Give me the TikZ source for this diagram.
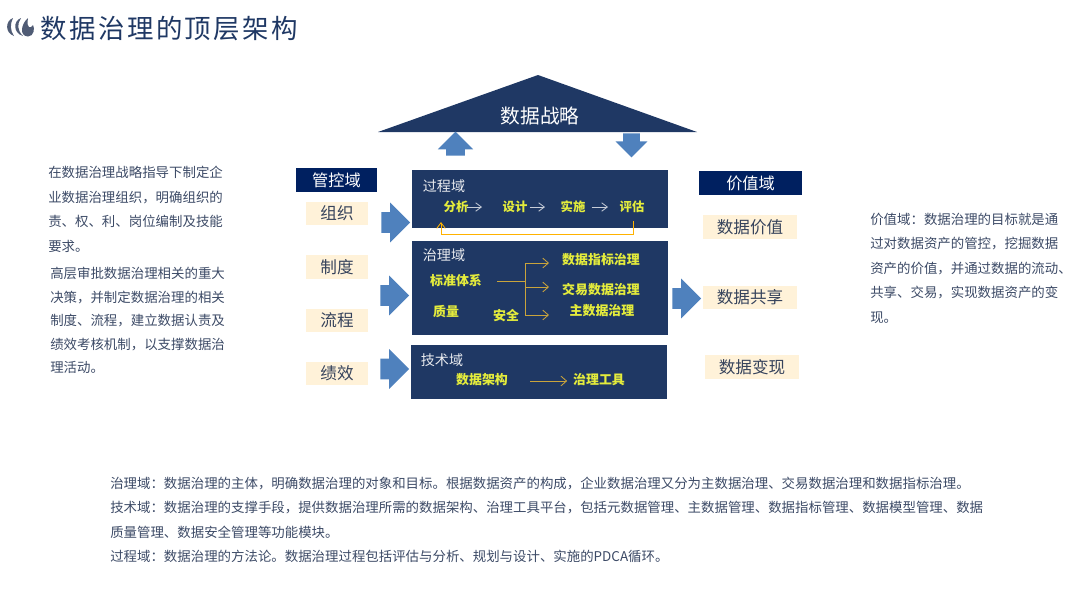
\documentclass[tikz,border=0pt]{standalone}
\usepackage{xcolor}
\usepackage{fontspec}
\setmainfont{Noto Sans CJK SC}
\newfontfamily\titlefont[LetterSpace=9.5]{Noto Sans CJK SC}
\usetikzlibrary{shapes,arrows,arrows.meta,positioning}
\definecolor{navy}{HTML}{1F3864}
\definecolor{deepnavy}{HTML}{002060}
\definecolor{beige}{HTML}{FFF2D9}
\definecolor{arrowblue}{HTML}{4F81BD}
\definecolor{bodytext}{HTML}{3C4A66}
\definecolor{labelyellow}{HTML}{E4EC3C}
\definecolor{goldline}{HTML}{C9A43C}

\begin{document}
\begin{tikzpicture}[
        x=0.025cm, y=-0.025cm,
        domainbox/.style={fill=navy, inner sep=0pt, minimum width=6.38cm},
        header/.style={fill=deepnavy, text=white, inner sep=0pt, minimum height=0.6cm,
                     font=\fontsize{11.5}{14}\selectfont},
        tag/.style={fill=beige, text=bodytext!90!black, inner sep=0pt, minimum height=0.58cm,
                     font=\fontsize{11.8}{14}\selectfont},
        domname/.style={text=white!90!navy, inner sep=0pt, font=\fontsize{10}{12}\selectfont},
        item/.style={text=labelyellow, inner sep=0pt, font=\fontsize{8.8}{11}\bfseries},
        biggeritem/.style={text=labelyellow, inner sep=0pt, font=\fontsize{9.2}{11}\bfseries},
        para/.style={text=bodytext, inner sep=0pt, anchor=west, align=left,
                     font=\fontsize{9.55}{17.4}\selectfont},
        blockarr/.style={single arrow, fill=arrowblue, anchor=tail, inner xsep=0pt, inner ysep=0.25cm,
                     minimum height=0.72cm, single arrow head extend=0.24cm},
        uprightarr/.style={single arrow, fill=arrowblue, anchor=tail, inner ysep=0pt,
                     minimum height=0.6cm},
        steparr/.style={-{Straight Barb[length=4pt,width=6pt]}, semithick, white!75!navy},
        goldarr/.style={-{Straight Barb[length=4pt,width=7pt]}, goldline, semithick},
    ]
        \useasboundingbox (0,0) rectangle (1080,608);

        % Logo and title
        \fill[bodytext!90!white] (13,18) .. controls (5,21) and (5,33) .. (14,36)
            .. controls (10,30) and (10,24) .. (13,18) -- cycle;
        \fill[bodytext!90!white] (21,18) .. controls (13,21) and (13,33) .. (23,36)
            .. controls (17,30) and (17,24) .. (21,18) -- cycle;
        \fill[bodytext!90!white] (28,18) .. controls (21,24) and (19,36) .. (28,36.5)
            .. controls (34,36.5) and (35,28) .. (33,25)
            .. controls (31,29) and (26,29) .. (28,18) -- cycle;
        \node[text=navy, inner sep=0pt, anchor=west, font=\fontsize{18.8}{22}\titlefont]
            (title) at (40,29) {数据治理的顶层架构};

        % Roof: data strategy
        \fill[navy] (378,132) -- (538,75) -- (697,132) -- cycle;
        \node[text=white, inner sep=0pt, font=\fontsize{14}{16}\selectfont]
            (strategy) at (540,116) {数据战略};
        \node[uprightarr, inner xsep=0.225cm, single arrow head extend=0.21cm,
              shape border rotate=90] (up) at (455.5,156) {};
        \node[uprightarr, inner xsep=0.2cm, single arrow head extend=0.19cm,
              shape border rotate=270] (down) at (631.5,133) {};

        % Centre: the three domains
        \node[domainbox, minimum height=1.45cm] (process) at (540,199) {};
        \node[domainbox, minimum height=2.35cm] (govern)  at (540,288) {};
        \node[domainbox, minimum height=1.34cm] (tech)    at (539,372) {};

        % Process domain
        \node[domname] (processname) at (444,186) {过程域};
        \node[item] (analyse) at (456,207) {分析};
        \node[item] (design)  at (515,207) {设计};
        \node[item] (build)   at (573,207) {实施};
        \node[item] (assess)  at (632,207) {评估};
        \draw[steparr] (analyse.east) ++(-2,0) -- (482,207);
        \draw[steparr] (design.east) ++(2,0) -- (545,207);
        \draw[steparr] (build.east) ++(6,0) -- (608,207);
        \coordinate (loopend) at (441,222);
        \draw[-{Straight Barb[length=4pt,width=6pt]}, orange!60!yellow, semithick]
            (assess.south) ++(1,8) -- (633,234) -- (441,234) -- (loopend);

        % Governance domain
        \node[domname] (governname) at (444,255) {治理域};
        \node[biggeritem] (standard) at (456,281) {标准体系};
        \node[biggeritem] (quality)  at (446,312) {质量};
        \node[biggeritem] (safety)   at (506,316) {安全};
        \node[biggeritem] (metric)   at (601,259.5) {数据指标治理};
        \node[biggeritem] (trade)    at (601,289.5) {交易数据治理};
        \node[biggeritem] (master)   at (602,311) {主数据治理};
        \coordinate (fork) at (525,281.5);
        \draw[goldline, line width=1.4pt] (standard.east) ++(15,0.5) -- (fork);
        \draw[goldarr] (fork) |- (549,263);
        \draw[goldarr] (fork) |- (549,287);
        \draw[goldarr] (fork) |- (549,315);

        % Technology domain
        \node[domname] (techname) at (442,360) {技术域};
        \node[biggeritem] (arch) at (482,380) {数据架构};
        \node[biggeritem] (tool) at (599,380) {治理工具};
        \draw[goldarr] (arch.east) ++(22,1) -- ++(37,0);

        % Left column: control domain
        \node[header, minimum width=2.02cm] (control) at (336.5,180) {管控域};
        \node[tag, minimum width=1.55cm] (org)     at (337,213.5) {组织};
        \node[tag, minimum width=1.55cm] (rule)    at (337,267) {制度};
        \node[tag, minimum width=1.55cm] (flow)    at (337,320.5) {流程};
        \node[tag, minimum width=1.55cm] (perform) at (337,373.5) {绩效};

        \node[blockarr] (orgarr)  at (381,222.5) {};
        \node[blockarr] (midarr)  at (380,295.5) {};
        \node[blockarr] (techarr) at (380,369) {};
        \node[blockarr] (outarr)  at (672,298.5) {};

        % Right column: value domain
        \node[header, minimum width=2.58cm] (value) at (750.5,183) {价值域};
        \node[tag, minimum width=2.35cm] (worth) at (750,227) {数据价值};
        \node[tag, minimum width=2.35cm] (share) at (750,297.5) {数据共享};
        \node[tag, minimum width=2.35cm] (cash)  at (752,367) {数据变现};

        % Explanations
        \node[para] (leftone) at (48,209.5) {在数据治理战略指导下制定企\\业数据治理组织，明确组织的\\责、权、利、岗位编制及技能\\要求。};
        \node[para, font=\fontsize{9.55}{16.6}\selectfont] (lefttwo) at (50,320.5) {高层审批数据治理相关的重大\\决策，并制定数据治理的相关\\制度、流程，建立数据认责及\\绩效考核机制，以支撑数据治\\理活动。};
        \node[para] (righttext) at (870,268) {价值域：数据治理的目标就是通\\过对数据资产的管控，挖掘数据\\资产的价值，并通过数据的流动、\\共享、交易，实现数据资产的变\\现。};
        \node[para] (bottomtext) at (110,520) {治理域：数据治理的主体，明确数据治理的对象和目标。根据数据资产的构成，企业数据治理又分为主数据治理、交易数据治理和数据指标治理。\\技术域：数据治理的支撑手段，提供数据治理所需的数据架构、治理工具平台，包括元数据管理、主数据管理、数据指标管理、数据模型管理、数据\\质量管理、数据安全管理等功能模块。\\过程域：数据治理的方法论。数据治理过程包括评估与分析、规划与设计、实施的PDCA循环。};
    \end{tikzpicture}
\end{document}
